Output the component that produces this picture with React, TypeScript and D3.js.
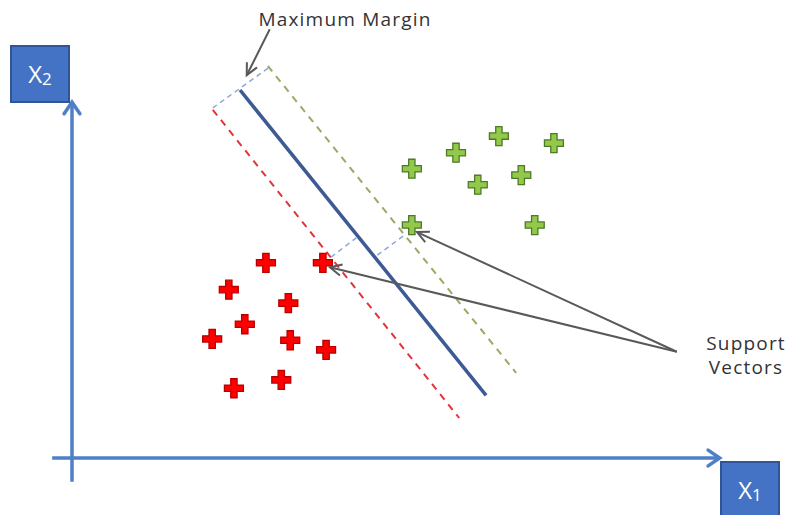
import React from "react";
import * as d3 from "d3";

// Feature space: x1 along the horizontal axis, x2 along the vertical axis
const classA: [number, number][] = [
  [3.03, 3.05], [3.92, 3.05], [2.45, 2.63], [3.38, 2.42], [2.70, 2.09],
  [2.19, 1.86], [3.41, 1.84], [3.97, 1.69], [2.53, 1.09], [3.27, 1.22],
];
const classB: [number, number][] = [
  [5.31, 4.52], [6.00, 4.77], [6.67, 5.03], [7.53, 4.92], [6.34, 4.27],
  [7.02, 4.42], [5.31, 3.64], [7.23, 3.64],
];

// Separating hyperplane and the two margin boundaries
const hyperplane: [number, number][] = [[2.625, 5.75], [6.47, 0.98]];
const marginA: [number, number][] = [[2.2, 5.44], [6.05, 0.625]];
const marginB: [number, number][] = [[3.06, 6.125], [6.94, 1.33]];

// Perpendicular connectors (margin width and support vector distances)
const marginSpan: [number, number][] = [[2.2, 5.47], [3.09, 6.11]];
const supportDropA: [number, number][] = [[4.05, 3.14], [4.44, 3.44]];
const supportDropB: [number, number][] = [[4.77, 3.17], [5.22, 3.5]];

// Annotation arrows: [from, to]
const marginArrow: [number, number][] = [[3.09, 6.7], [2.73, 5.98]];
const supportArrows: [number, number][][] = [
  [[9.45, 1.66], [4.03, 2.98]],
  [[9.45, 1.66], [5.39, 3.53]],
];

const axisX: [number, number][] = [[-0.31, 0], [10.12, 0]];
const axisY: [number, number][] = [[0, -0.37], [0, 5.56]];

const x = d3.scaleLinear().domain([0, 10]).range([72, 712]);
const y = d3.scaleLinear().domain([0, 6]).range([458, 74]);

const line = d3
  .line<[number, number]>()
  .x((d) => x(d[0]))
  .y((d) => y(d[1]));

const cross = d3.symbol(d3.symbolCross, 200)() as string;

function chevron(seg: [number, number][], len: number, spread: number) {
  const x0 = x(seg[0][0]);
  const y0 = y(seg[0][1]);
  const x1 = x(seg[1][0]);
  const y1 = y(seg[1][1]);
  const a = Math.atan2(y1 - y0, x1 - x0);
  const p1 = [x1 - len * Math.cos(a - spread), y1 - len * Math.sin(a - spread)];
  const p2 = [x1 - len * Math.cos(a + spread), y1 - len * Math.sin(a + spread)];
  return `M${p1[0]},${p1[1]}L${x1},${y1}L${p2[0]},${p2[1]}`;
}

const AXIS = "#4F7FC6";
const GRAY = "#595959";
const FONT = "'Open Sans', 'DejaVu Sans', sans-serif";

export default function App() {
  return (
    <svg
      width={788}
      height={515}
      style={{ position: "absolute", left: 0, top: 0, background: "#fff" }}
    >
      {/* axes */}
      <path d={line(axisX)!} stroke={AXIS} strokeWidth={3.5} fill="none" />
      <path d={line(axisY)!} stroke={AXIS} strokeWidth={3.5} fill="none" />
      <path d={chevron(axisX, 14, 0.6)} stroke={AXIS} strokeWidth={3.5} fill="none" strokeLinecap="round" />
      <path d={chevron(axisY, 14, 0.6)} stroke={AXIS} strokeWidth={3.5} fill="none" strokeLinecap="round" />

      {/* axis label boxes */}
      <g>
        <rect x={11} y={46} width={58} height={56} fill="#4472C4" stroke="#2F5597" strokeWidth={2} />
        <text x={40} y={83} textAnchor="middle" fill="#fff" fontFamily={FONT} fontSize={24}>
          X<tspan fontSize={17} dy={2}>2</tspan>
        </text>
      </g>
      <g>
        <rect x={721} y={462} width={58} height={60} fill="#4472C4" stroke="#2F5597" strokeWidth={2} />
        <text x={750} y={499} textAnchor="middle" fill="#fff" fontFamily={FONT} fontSize={24}>
          X<tspan fontSize={17} dy={2}>1</tspan>
        </text>
      </g>

      {/* margin boundaries and hyperplane */}
      <path d={line(marginA)!} stroke="#E8303A" strokeWidth={2} strokeDasharray="7,6" fill="none" />
      <path d={line(marginB)!} stroke="#9DA865" strokeWidth={2} strokeDasharray="7,6" fill="none" />
      <path d={line(hyperplane)!} stroke="#3E5A94" strokeWidth={3.5} fill="none" />

      {/* perpendicular connectors */}
      {[marginSpan, supportDropA, supportDropB].map((s, i) => (
        <path key={i} d={line(s)!} stroke="#8AA6D6" strokeWidth={1.5} strokeDasharray="5,4" fill="none" />
      ))}

      {/* class points */}
      {classA.map((d, i) => (
        <path
          key={`a${i}`}
          d={cross}
          transform={`translate(${x(d[0])},${y(d[1])})`}
          fill="#FF0000"
          stroke="#B80000"
          strokeWidth={1.3}
        />
      ))}
      {classB.map((d, i) => (
        <path
          key={`b${i}`}
          d={cross}
          transform={`translate(${x(d[0])},${y(d[1])})`}
          fill="#92C94A"
          stroke="#4E7A28"
          strokeWidth={1.3}
        />
      ))}

      {/* annotations */}
      <path d={line(marginArrow)!} stroke={GRAY} strokeWidth={2} fill="none" />
      <path d={chevron(marginArrow, 13, 0.45)} stroke={GRAY} strokeWidth={2} fill="none" />
      {supportArrows.map((s, i) => (
        <g key={i}>
          <path d={line(s)!} stroke={GRAY} strokeWidth={2} fill="none" />
          <path d={chevron(s, 13, 0.45)} stroke={GRAY} strokeWidth={2} fill="none" />
        </g>
      ))}

      <g fill="#333" fontFamily={FONT} fontSize={19} letterSpacing={1.2} textAnchor="middle">
        <text x={345} y={26}>Maximum Margin</text>
        <text x={746} y={350}>Support</text>
        <text x={746} y={374}>Vectors</text>
      </g>
    </svg>
  );
}
